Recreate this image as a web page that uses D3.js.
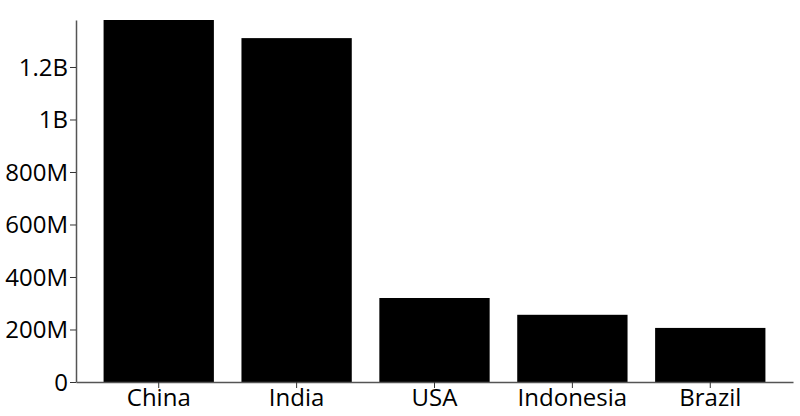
<!DOCTYPE html>
<html><head><meta charset="utf-8">
<script src="https://cdn.jsdelivr.net/npm/d3@7"></script>
<style>body{margin:0;background:#fff}svg{display:block}text{font-family:"Open Sans",sans-serif}</style>
</head><body>
<svg id="c" width="800" height="416"></svg>
<script>
const countries = ["China","India","USA","Indonesia","Brazil"];
const population = [1379000000,1310000000,320000000,256000000,206000000];
const yTicks = [0,200e6,400e6,600e6,800e6,1e9,1.2e9];
const yTickLabels = ["0","200M","400M","600M","800M","1B","1.2B"];

const svg = d3.select("#c");
const m = {left:76, right:7, top:20, bottom:34};
const W = 800, H = 416;
const x = d3.scaleBand().domain(countries).range([m.left, W-m.right]).paddingInner(0.2).paddingOuter(0.2);
const y = d3.scaleLinear().domain([0, d3.max(population)]).range([H-m.bottom, m.top]);

svg.selectAll("rect.bar").data(countries).join("rect")
  .attr("class","bar")
  .attr("x", d=>x(d)).attr("width", x.bandwidth())
  .attr("y", (d,i)=>y(population[i])).attr("height", (d,i)=>y(0)-y(population[i]))
  .attr("fill","#000");

const ya = svg.append("g").attr("transform",`translate(${m.left},0)`)
  .call(d3.axisLeft(y).tickValues(yTicks).tickFormat((d,i)=>yTickLabels[i]).tickSize(6).tickSizeOuter(0));
const xa = svg.append("g").attr("transform",`translate(0,${H-m.bottom})`)
  .call(d3.axisBottom(x).tickSize(6).tickSizeOuter(0));
[ya,xa].forEach(g=>{
  g.selectAll("path.domain").attr("stroke","#555").attr("stroke-width",1.5);
  g.selectAll(".tick line").attr("stroke","#333");
  g.selectAll("text").attr("font-family","'Open Sans',sans-serif").attr("font-size",24).attr("fill","#000");
});
xa.selectAll("text").attr("dy","0.75em").attr("y",6);
ya.selectAll("text").attr("x",-8).attr("dy","0.35em");
</script>
</body></html>
